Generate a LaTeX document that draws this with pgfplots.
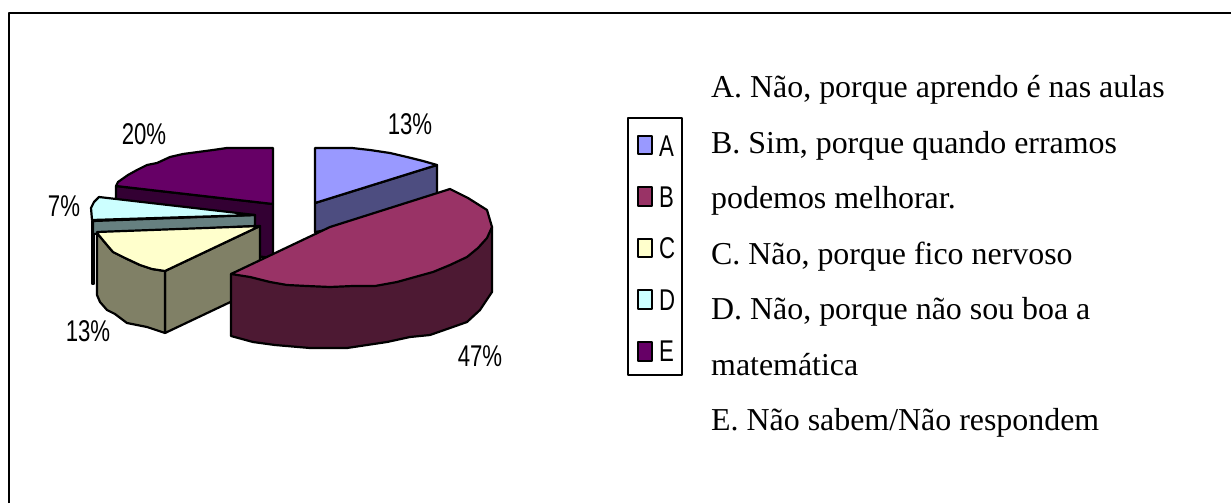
\documentclass[border=0pt]{standalone}
\usepackage{pgfplots}
\pgfplotsset{compat=1.18}
\usepackage{fontspec}
\setmainfont{Liberation Serif}
\newfontfamily\narrow[FakeStretch=0.74]{Liberation Sans}
\definecolor{Atop}{HTML}{9999FF}\definecolor{Aside}{HTML}{4D4D80}
\definecolor{Btop}{HTML}{993366}\definecolor{Bside}{HTML}{4D1933}
\definecolor{Ctop}{HTML}{FFFFCC}\definecolor{Cside}{HTML}{808066}
\definecolor{Dtop}{HTML}{CCFFFF}\definecolor{Dside}{HTML}{668080}
\definecolor{Etop}{HTML}{660066}\definecolor{Eside}{HTML}{330033}
\tikzset{
  lab/.style={font=\narrow\fontsize{30bp}{30bp}\selectfont, anchor=center, inner sep=0pt},
  txt/.style={font=\fontsize{31.9bp}{31.9bp}\selectfont, anchor=base west, inner sep=0pt},
}
\begin{document}
\begin{tikzpicture}
\begin{axis}[
  scale only axis, width=1231bp, height=503bp,
  xmin=0, xmax=1231, ymin=0, ymax=503, y dir=reverse,
  axis lines=none, clip=true,
  every axis plot/.append style={line width=2.2bp, draw=black, line join=round, mark=none},
]
\path (axis cs:0,0) rectangle (axis cs:1231,503);
% frame
\addplot[line width=2.4bp] coordinates {(9,503) (9,13) (1231,13)};
% E
\addplot[fill=Eside] coordinates {(116,186) (273,204) (273,258) (116,240)} --cycle;
\addplot[fill=Etop] coordinates {(116,186) (118,182) (128,175) (137,170) (147,165) (157,163) (170,157) (183,154) (198,152) (213,150) (227,148) (240,148) (273,148) (273,204)} --cycle;
% D
\addplot[fill=black] coordinates {(92,221) (94,221) (94,284) (92,284)} --cycle;
\addplot[fill=Dside] coordinates {(93,221) (255,215) (255,226) (93,234)} --cycle;
\addplot[fill=Dtop] coordinates {(92,220) (91,208) (94,202) (99,197) (255,215)} --cycle;
% C
\addplot[fill=Cside] coordinates {(165,271) (260,226) (260,288) (165,333)} --cycle;
\addplot[fill=Cside] coordinates {(97,233) (107,245) (113,252) (125,258) (140,265) (152,269) (165,271) (165,333) (147,327) (127,323) (115,314) (107,310) (100,302) (97,295)} --cycle;
\addplot[fill=Ctop] coordinates {(97,233) (97,232) (260,226) (165,271) (152,269) (140,265) (125,258) (113,252) (107,245)} --cycle;
% A
\addplot[fill=Aside] coordinates {(315,203) (437,165) (437,212) (315,232)} --cycle;
\addplot[fill=Atop] coordinates {(315,148) (352,148) (370,150) (390,153) (407,157) (423,161) (437,165) (315,203)} --cycle;
% B
\addplot[fill=Bside] coordinates {(231,274) (231,336) (253,342) (275,345) (310,348) (347,348) (387,342) (410,337) (430,335) (450,328) (467,322) (480,310) (492,292) (492,227)} --cycle;
\addplot[fill=Btop] coordinates {(231,274) (330,227) (450,189) (468,198) (487,210) (492,227) (487,238) (478,248) (467,257) (450,265) (433,272) (415,277) (397,282) (375,286) (353,286) (330,287) (307,286) (287,285) (270,282) (250,277)} --cycle;
% percentage labels
\node[lab] at (axis cs:410,124) {13\%};
\node[lab] at (axis cs:480,356) {47\%};
\node[lab] at (axis cs:88,331) {13\%};
\node[lab] at (axis cs:64,206) {7\%};
\node[lab] at (axis cs:144,134) {20\%};
% legend
\addplot[line width=2bp, fill=white] coordinates {(628,118) (682,118) (682,375) (628,375)} --cycle;
\addplot[line width=1.8bp, fill=Atop] coordinates {(638,136) (652,136) (652,154) (638,154)} --cycle;
\addplot[line width=1.8bp, fill=Btop] coordinates {(638,187) (652,187) (652,206) (638,206)} --cycle;
\addplot[line width=1.8bp, fill=Ctop] coordinates {(638,239) (652,239) (652,257) (638,257)} --cycle;
\addplot[line width=1.8bp, fill=Dtop] coordinates {(638,290) (652,290) (652,309) (638,309)} --cycle;
\addplot[line width=1.8bp, fill=Etop] coordinates {(638,342) (652,342) (652,361) (638,361)} --cycle;
\node[lab, anchor=base west] at (axis cs:659,156) {A};
\node[lab, anchor=base west] at (axis cs:659,207) {B};
\node[lab, anchor=base west] at (axis cs:659,258) {C};
\node[lab, anchor=base west] at (axis cs:659,310) {D};
\node[lab, anchor=base west] at (axis cs:659,361) {E};
% text
\node[txt] at (axis cs:711,97) {A. Não, porque aprendo é nas aulas};
\node[txt] at (axis cs:711,153) {B. Sim, porque quando erramos};
\node[txt] at (axis cs:711,208) {podemos melhorar.};
\node[txt] at (axis cs:711,264) {C. Não, porque fico nervoso};
\node[txt] at (axis cs:711,319) {D. Não, porque não sou boa a};
\node[txt] at (axis cs:711,375) {matemática};
\node[txt] at (axis cs:711,430) {E. Não sabem/Não respondem};
\end{axis}
\end{tikzpicture}
\end{document}
